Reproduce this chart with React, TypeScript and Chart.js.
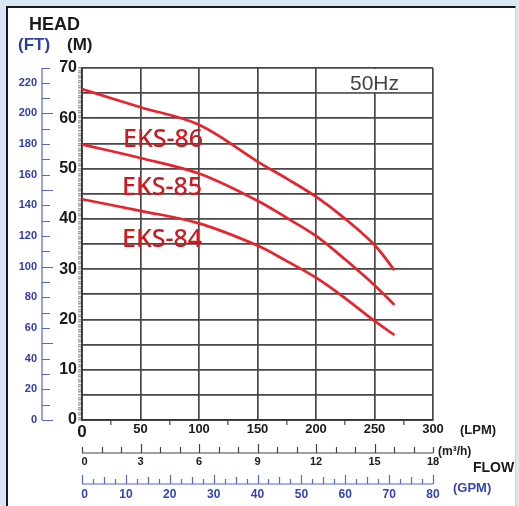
import React, { useEffect, useRef } from 'react';
import { Chart, registerables } from 'chart.js';

Chart.register(...registerables);

// ---- data ----
const flowLpm = [0, 50, 100, 150, 175, 200, 225, 250, 267];
const headEks86 = [65.8, 62.2, 58.7, 51.4, 48.0, 44.4, 40.0, 34.8, 29.8];
const headEks85 = [54.8, 52.1, 49.0, 43.6, 40.2, 36.6, 31.9, 26.8, 22.9];
const headEks84 = [43.9, 41.6, 39.1, 34.7, 31.6, 28.3, 24.2, 19.7, 16.9];
const seriesNames = ['EKS-86', 'EKS-85', 'EKS-84'];
const seriesLabelLpm = [35.0, 34.2, 34.2];
const seriesLabelHead = [54.2, 44.8, 34.5];

const headLabelsM = [0, 10, 20, 30, 40, 50, 60, 70];
const headLabelsFt = [0, 20, 40, 60, 80, 100, 120, 140, 160, 180, 200, 220];
const flowLabelsLpm = [0, 50, 100, 150, 200, 250, 300];
const flowLabelsM3h = [0, 3, 6, 9, 12, 15, 18];
const flowLabelsGpm = [0, 10, 20, 30, 40, 50, 60, 70, 80];

const HEAD_MAX_M = 70;
const HEAD_MAX_FT = HEAD_MAX_M * 3.28084;
const FLOW_MAX_LPM = 300;
const FLOW_MAX_M3H = 18;
const FLOW_MAX_GPM = 80;

const GRID = '#474747';
const RED = '#e8232b';
const RED_TEXT = '#cc1a1f';
const BLUE = '#2f3ea6';
const BLUE_LINE = '#5565c8';
const FONT = '"Liberation Sans", Arial, sans-serif';

const near = (v: number, m: number) => Math.abs(v / m - Math.round(v / m)) < 1e-6;

const overlayPlugin = {
  id: 'overlay',
  afterDatasetsDraw(chart: any) {
    const { ctx } = chart;
    const x = chart.scales.x;
    const y = chart.scales.y;
    ctx.save();
    ctx.fillStyle = RED_TEXT;
    ctx.font = '500 25px "Noto Sans", "Open Sans", sans-serif';
    ctx.textAlign = 'left';
    ctx.textBaseline = 'alphabetic';
    seriesNames.forEach((n, i) => {
      ctx.fillText(n, x.getPixelForValue(seriesLabelLpm[i]), y.getPixelForValue(seriesLabelHead[i]));
    });
    ctx.restore();
  },
  afterDraw(chart: any) {
    const { ctx } = chart;
    const x = chart.scales.x;
    const y = chart.scales.y;
    const yFt = chart.scales.yFt;
    const xM3 = chart.scales.xM3;
    const xGpm = chart.scales.xGpm;
    ctx.save();

    // 50Hz box (the 250 grid line stops under it)
    const bx0 = x.getPixelForValue(200) + 1;
    const bx1 = x.getPixelForValue(300) - 1;
    const by0 = y.getPixelForValue(70) + 1;
    const by1 = y.getPixelForValue(65) - 1;
    ctx.fillStyle = '#ffffff';
    ctx.fillRect(bx0, by0, bx1 - bx0, by1 - by0);
    ctx.fillStyle = '#444';
    ctx.font = `21px ${FONT}`;
    ctx.textAlign = 'center';
    ctx.textBaseline = 'alphabetic';
    ctx.fillText('50Hz', x.getPixelForValue(250), by1 - 2);

    // Titles
    ctx.textAlign = 'left';
    ctx.fillStyle = '#1a1a1a';
    ctx.font = `bold 18px ${FONT}`;
    ctx.fillText('HEAD', 29, 30);
    ctx.font = `bold 17px ${FONT}`;
    ctx.fillStyle = BLUE;
    ctx.fillText('(FT)', 18, 50);
    ctx.fillStyle = '#1a1a1a';
    ctx.fillText('(M)', 67, 50);

    // FT axis
    const ftX = 42;
    ctx.strokeStyle = BLUE_LINE;
    ctx.lineWidth = 1.2;
    ctx.beginPath();
    ctx.moveTo(ftX, yFt.getPixelForValue(0));
    ctx.lineTo(ftX, yFt.getPixelForValue(HEAD_MAX_FT));
    ctx.stroke();
    ctx.beginPath();
    for (let v = 0; v <= 220; v += 10) {
      const py = Math.round(yFt.getPixelForValue(v)) + 0.5;
      const len = near(v, 50) ? 11 : 8;
      ctx.moveTo(ftX, py);
      ctx.lineTo(ftX + len, py);
    }
    const pTop = Math.round(yFt.getPixelForValue(HEAD_MAX_FT)) + 0.5;
    ctx.moveTo(ftX, pTop);
    ctx.lineTo(ftX + 8, pTop);
    ctx.stroke();
    ctx.fillStyle = BLUE;
    ctx.font = `bold 11px ${FONT}`;
    ctx.textAlign = 'right';
    ctx.textBaseline = 'middle';
    headLabelsFt.forEach((v) => {
      ctx.fillText(String(v), 37, yFt.getPixelForValue(v));
    });

    // m3/h axis
    const m3Y = 453;
    ctx.strokeStyle = '#444';
    ctx.lineWidth = 1.2;
    ctx.beginPath();
    ctx.moveTo(xM3.getPixelForValue(0), m3Y);
    ctx.lineTo(xM3.getPixelForValue(FLOW_MAX_M3H), m3Y);
    for (let k = 0; k <= FLOW_MAX_M3H; k += 1) {
      const px = Math.round(xM3.getPixelForValue(k)) + 0.5;
      const len = near(k, 3) && k > 0 && k < FLOW_MAX_M3H ? 9 : 6;
      ctx.moveTo(px, m3Y);
      ctx.lineTo(px, m3Y - len);
    }
    ctx.stroke();
    ctx.fillStyle = '#1a1a1a';
    ctx.font = `bold 11px ${FONT}`;
    ctx.textAlign = 'center';
    ctx.textBaseline = 'alphabetic';
    flowLabelsM3h.forEach((v) => {
      const dx = v === 0 ? 2.5 : 0;
      ctx.fillText(String(v), xM3.getPixelForValue(v) + dx, 465);
    });

    // GPM axis
    const gY = 484;
    ctx.strokeStyle = BLUE_LINE;
    ctx.beginPath();
    ctx.moveTo(xGpm.getPixelForValue(0), gY);
    ctx.lineTo(xGpm.getPixelForValue(FLOW_MAX_GPM), gY);
    for (let g = 0; g <= FLOW_MAX_GPM; g += 2.5) {
      const px = Math.round(xGpm.getPixelForValue(g)) + 0.5;
      const len = near(g, 10) ? 9 : near(g, 5) ? 7 : 5;
      ctx.moveTo(px, gY);
      ctx.lineTo(px, gY - len);
    }
    ctx.stroke();
    ctx.fillStyle = '#3344b4';
    ctx.font = `bold 12px ${FONT}`;
    flowLabelsGpm.forEach((v) => {
      const dx = v === 0 ? 2.5 : 0;
      ctx.fillText(String(v), xGpm.getPixelForValue(v) + dx, 498);
    });

    // unit labels
    ctx.textAlign = 'left';
    ctx.fillStyle = '#1a1a1a';
    ctx.font = `bold 13px ${FONT}`;
    ctx.fillText('(LPM)', 460, 434);
    ctx.font = `bold 12px ${FONT}`;
    ctx.fillText('(m³/h)', 438, 455);
    ctx.font = `bold 14px ${FONT}`;
    ctx.fillText('FLOW', 473, 472);
    ctx.fillStyle = '#3344b4';
    ctx.font = `bold 13px ${FONT}`;
    ctx.fillText('(GPM)', 453, 492);

    ctx.restore();
  },
};

export default function App() {
  const ref = useRef<HTMLCanvasElement | null>(null);

  useEffect(() => {
    if (!ref.current) return;
    const mk = (vals: number[]) => flowLpm.map((f, i) => ({ x: f, y: vals[i] }));
    const ds = (vals: number[]) => ({
      data: mk(vals),
      borderColor: RED,
      borderWidth: 2.7,
      pointRadius: 0,
      fill: false,
      tension: 0.35,
      xAxisID: 'x',
      yAxisID: 'y',
    });
    const chart = new Chart(ref.current, {
      type: 'line',
      data: {
        datasets: [ds(headEks86), ds(headEks85), ds(headEks84)],
      },
      options: {
        animation: false,
        responsive: false,
        layout: { padding: { left: 0, top: 68, right: 86, bottom: 0 } },
        plugins: { legend: { display: false }, tooltip: { enabled: false } },
        scales: {
          x: {
            type: 'linear',
            position: 'bottom',
            min: 0,
            max: FLOW_MAX_LPM,
            afterFit: (s: any) => {
              s.height = 86;
            },
            ticks: {
              stepSize: 25,
              autoSkip: false,
              maxRotation: 0,
              maxTicksLimit: 1000,
              padding: -3,
              color: '#1a1a1a',
              callback: (v: any) => (flowLabelsLpm.includes(Number(v)) ? String(v) : ''),
              font: (c: any) =>
                c.tick && c.tick.value === 0
                  ? { family: FONT, size: 17, weight: 'bold' }
                  : { family: FONT, size: 13, weight: 'bold' },
            },
            grid: {
              color: (c: any) => (c.tick && near(c.tick.value, 50) ? GRID : 'rgba(0,0,0,0)'),
              lineWidth: 1.7,
              tickLength: 5,
              tickColor: (c: any) => (c.tick && near(c.tick.value, 50) ? 'rgba(0,0,0,0)' : '#444'),
              tickWidth: 1.2,
            },
            border: { color: '#333', width: 1.7 },
          },
          y: {
            type: 'linear',
            position: 'left',
            min: 0,
            max: HEAD_MAX_M,
            afterFit: (s: any) => {
              s.width = 82;
            },
            ticks: {
              stepSize: 0.5,
              autoSkip: false,
              maxTicksLimit: 1000,
              padding: 1,
              color: '#1a1a1a',
              font: { family: FONT, size: 16, weight: 'bold' },
              callback: (v: any) => {
                const n = Number(v);
                return headLabelsM.some((h) => Math.abs(h - n) < 1e-6) ? String(Math.round(n)) : '';
              },
            },
            grid: {
              color: (c: any) => (c.tick && near(c.tick.value, 5) ? GRID : 'rgba(0,0,0,0)'),
              lineWidth: 1.7,
              tickLength: 4,
              tickColor: '#555',
              tickWidth: 0.8,
            },
            border: { color: '#333', width: 1.7 },
          },
          yFt: { type: 'linear', position: 'left', display: false, min: 0, max: HEAD_MAX_FT },
          xM3: { type: 'linear', position: 'bottom', display: false, min: 0, max: FLOW_MAX_M3H },
          xGpm: { type: 'linear', position: 'bottom', display: false, min: 0, max: FLOW_MAX_GPM },
        },
      } as any,
      plugins: [overlayPlugin],
    });
    return () => chart.destroy();
  }, []);

  return (
    <div style={{ position: 'fixed', left: 0, top: 0, width: 519, height: 506, background: '#d9e6f4', overflow: 'hidden' }}>
      <div
        style={{
          position: 'absolute',
          left: 6,
          top: 6,
          width: 510,
          height: 502,
          background: '#ffffff',
          borderTop: '2px solid #1a1a1a',
          borderLeft: '2px solid #1a1a1a',
          borderRight: '1px solid #c5d2e0',
          boxSizing: 'border-box',
        }}
      />
      <canvas ref={ref} width={519} height={506} style={{ position: 'absolute', left: 0, top: 0 }} />
    </div>
  );
}
